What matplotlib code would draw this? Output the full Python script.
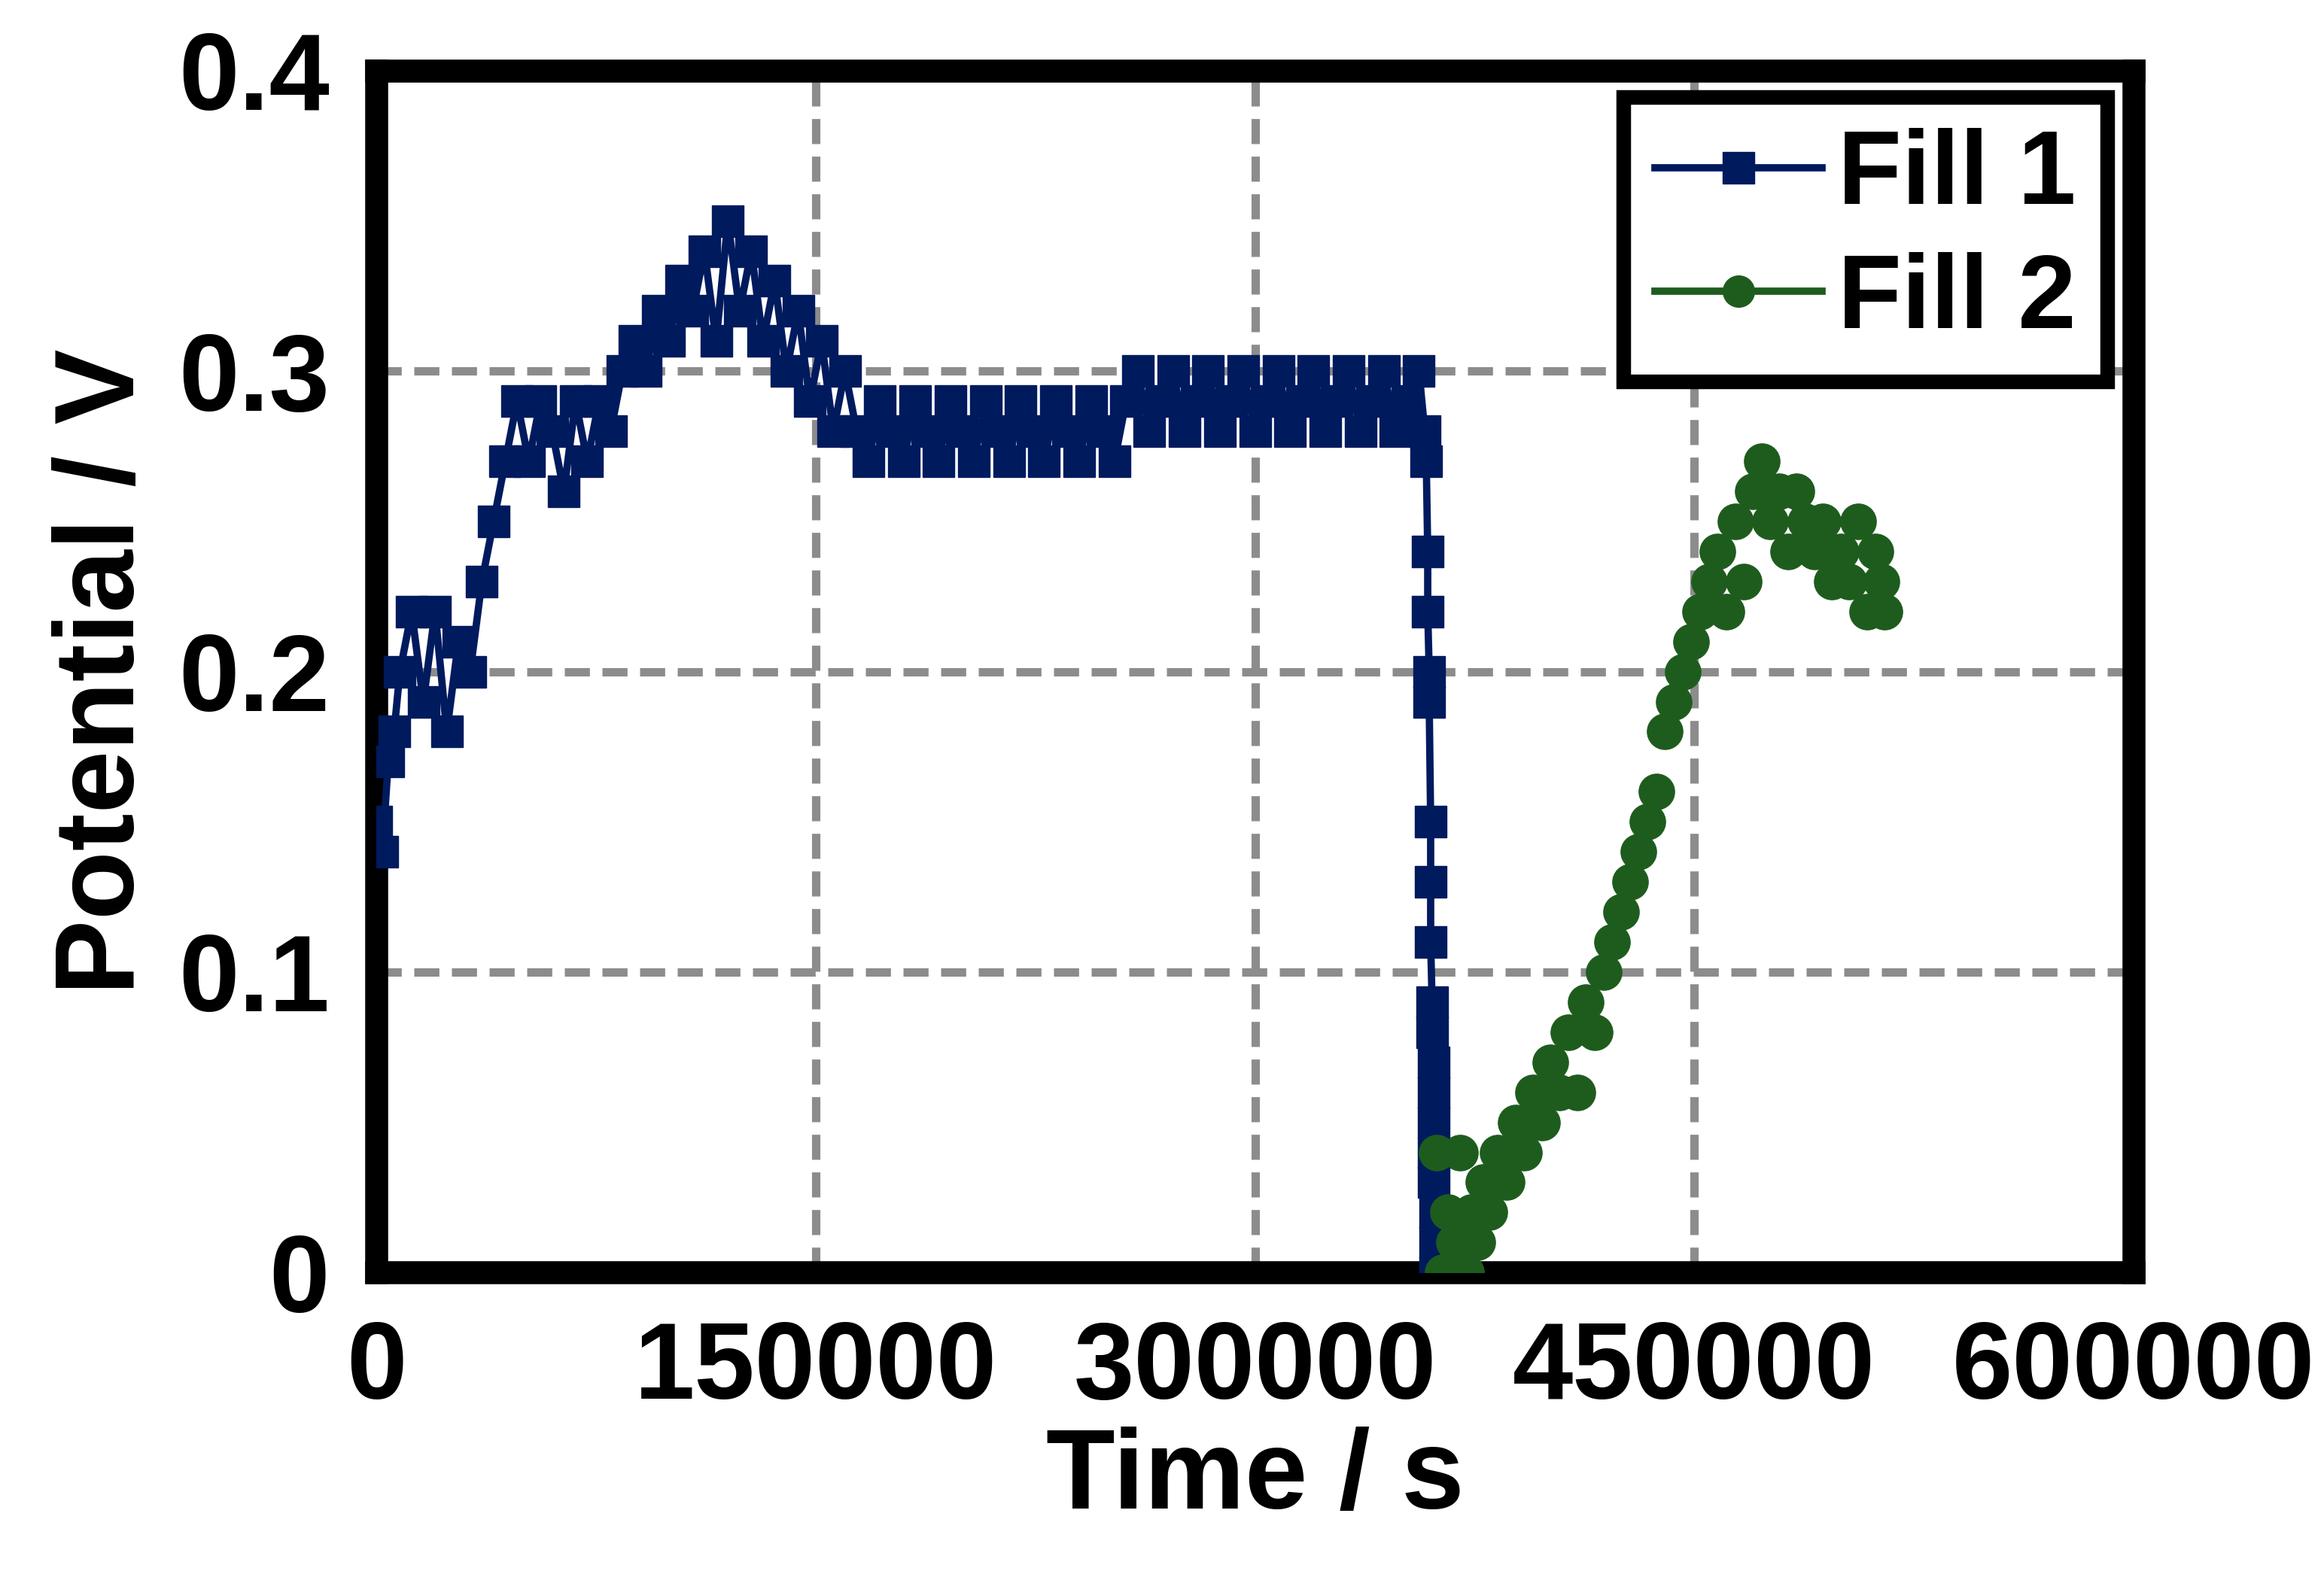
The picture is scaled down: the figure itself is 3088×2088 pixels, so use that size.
import numpy as np
import matplotlib
matplotlib.use("Agg")
import matplotlib.pyplot as plt
from matplotlib.lines import Line2D

plt.rcParams['font.family'] = ['Liberation Sans', 'DejaVu Sans']
plt.rcParams['font.weight'] = 'bold'

fill1_t = [0,2000,4000,6000,8000,12000,16000,20000,24000,28000,32000,36000,40000,44000,48000,52000,56000,60000,64000,68000,72000,76000,80000,84000,88000,92000,96000,100000,104000,108000,112000,116000,120000,124000,128000,132000,136000,140000,144000,148000,152000,156000,160000,
           164000,168000,172000,176000,180000,184000,188000,192000,196000,200000,204000,208000,212000,216000,220000,224000,228000,232000,236000,240000,244000,248000,252000,256000,
           260000,264000,268000,272000,276000,280000,284000,288000,292000,296000,300000,304000,308000,312000,316000,320000,324000,328000,332000,336000,340000,344000,348000,352000,356000,
           358000,358500,359000,359000,359500,359500,360000,360000,360000,360500,360500,361000,361000,
           361000,361000,361000,361500,361500,361500,362000]
fill1_v = [0.15,0.14,0.17,0.18,0.20,0.22,0.19,0.22,0.18,0.21,0.20,0.23,0.25,0.27,0.29,0.27,0.29,0.28,0.26,0.29,0.27,0.29,0.28,0.30,0.31,0.30,0.32,0.31,0.33,0.32,0.34,0.31,0.35,0.32,0.34,0.31,0.33,0.30,0.32,0.29,0.31,0.28,0.30,
           0.28,0.27,0.29,0.28,0.27,0.29,0.28,0.27,0.29,0.28,0.27,0.29,0.28,0.27,0.29,0.28,0.27,0.29,0.28,0.27,0.29,0.28,0.27,0.29,
           0.30,0.28,0.29,0.30,0.28,0.29,0.30,0.28,0.29,0.30,0.28,0.29,0.30,0.28,0.29,0.30,0.28,0.29,0.30,0.28,0.29,0.30,0.28,0.29,0.30,
           0.28,0.27,0.24,0.22,0.20,0.19,0.15,0.13,0.11,0.09,0.08,0.07,0.06,
           0.05,0.04,0.03,0.02,0.01,0.00,0.00]

fill2_t = [362000,364000,366000,368000,370000,372000,374000,376000,378000,380000,383000,386000,389000,392000,395000,398000,401000,404000,407000,410000,413000,416000,419000,422000,425000,428000,431000,434000,437000,440000,443000,446000,449000,452000,455000,458000,461000,464000,467000,470000,473000,476000,479000,482000,485000,488000,491000,494000,497000,500000,503000,506000,509000,512000,514000,515000]
fill2_v = [0.04,0.00,0.02,0.01,0.04,0.00,0.02,0.01,0.03,0.02,0.04,0.03,0.05,0.04,0.06,0.05,0.07,0.06,0.08,0.06,0.09,0.08,0.10,0.11,0.12,0.13,0.14,0.15,0.16,0.18,0.19,0.20,0.21,0.22,0.23,0.24,0.22,0.25,0.23,0.26,0.27,0.25,0.26,0.24,0.26,0.25,0.24,0.25,0.23,0.24,0.23,0.25,0.22,0.24,0.23,0.22]

c1 = '#001A5E'
c2 = '#1E5C1E'

fig = plt.figure(figsize=(30.88, 20.88), dpi=100)
ax = fig.add_axes([0.162, 0.19, 0.756, 0.765])
ax.set_xlim(0, 600000)
ax.set_ylim(0, 0.4)
ax.set_xticks([0, 150000, 300000, 450000, 600000])
ax.set_yticks([0, 0.1, 0.2, 0.3, 0.4])
ax.set_yticklabels(['0', '0.1', '0.2', '0.3', '0.4'])
ax.grid(True, color='#8c8c8c', linestyle=(0, (3, 1.5)), linewidth=8)
ax.axhline(0, color='#8c8c8c', linestyle=(0, (1, 1)), linewidth=12, zorder=2.5)
ax.set_axisbelow(True)

ax.plot(fill1_t, fill1_v, color=c1, marker='s', markersize=30, linewidth=7, label='Fill 1', zorder=3)
ax.plot(fill2_t, fill2_v, color=c2, marker='o', markersize=34, linewidth=0, label='Fill 2', zorder=3)

h1 = Line2D([], [], color=c1, marker='s', markersize=30, linewidth=7)
h2 = Line2D([], [], color=c2, marker='o', markersize=30, linewidth=7)
leg = ax.legend([h1, h2], ['Fill 1', 'Fill 2'], loc='upper right', fontsize=100,
                frameon=True, fancybox=False, edgecolor='black', framealpha=1,
                handlelength=1.6, borderaxespad=0.25, handletextpad=0.15, labelspacing=0.25,
                borderpad=0.3)
leg.get_frame().set_linewidth(14)

for s in ax.spines.values():
    s.set_linewidth(22)
    s.set_color('black')
ax.tick_params(length=0, labelsize=104, pad=45)
for lab in ax.get_xticklabels() + ax.get_yticklabels():
    lab.set_fontweight('bold')
ax.set_xlabel('Time / s', fontsize=108, fontweight='bold', labelpad=5)
ax.set_ylabel('Potential / V', fontsize=108, fontweight='bold', labelpad=20)

fig.savefig('out.png', dpi=100)
